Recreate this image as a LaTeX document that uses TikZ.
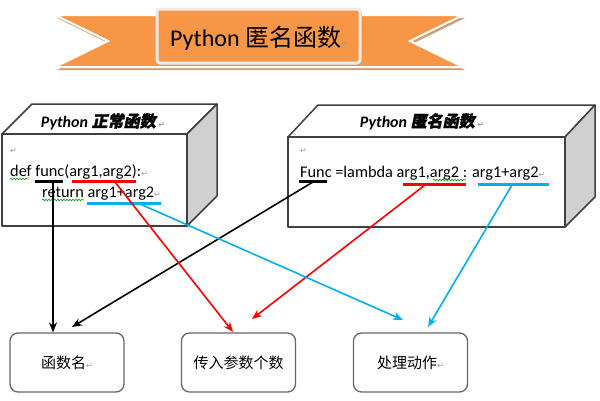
\documentclass[tikz,border=0pt]{standalone}
\usepackage{fontspec}
\setmainfont{Carlito}
\newfontfamily\cjk{Noto Sans CJK SC}
\newfontfamily\cjkbi[FakeSlant=0.2,FakeBold=1.5]{Noto Sans CJK SC}
\newfontfamily\symf{DejaVu Sans}
\usetikzlibrary{arrows.meta,decorations.pathmorphing}
\definecolor{ribbon}{HTML}{F79646}
\definecolor{ribshadow}{HTML}{C9A07A}
\definecolor{cblue}{HTML}{00B0F0}
\definecolor{cred}{HTML}{FF0000}
\definecolor{sidegray}{HTML}{D0D0D0}
\newcommand\retmark{{\symf\fontsize{8}{8}\selectfont\color{black!40}↵}}
\begin{document}
\begin{tikzpicture}[x=1pt,y=-1pt,
  code/.style={font=\fontsize{16.3}{16.3}\selectfont, anchor=base west, inner sep=0pt},
  boxtitle/.style={font=\fontsize{16}{16}\selectfont, anchor=base, inner sep=0pt},
  conn/.style={line width=1.6pt, -{Stealth[length=10pt,width=8pt]}},
  ul/.style={line width=3pt},
  face/.style={draw=black!75, line width=1.5pt, line join=round},
  btn/.style={draw=black!60, line width=1.3pt, rounded corners=8pt, minimum width=114pt, minimum height=59pt, inner sep=0pt, font=\cjk\fontsize{15}{15}\selectfont},
  wavy/.style={draw=green!60!black, line width=0.6pt, decorate, decoration={snake, amplitude=0.8pt, segment length=3pt}}
]
\useasboundingbox (0,0) rectangle (600,400);

% ---------- ribbon ----------
\begin{scope}[shift={(2,3)}]
  \fill[ribshadow] (55,15) -- (463,15) -- (410,41) -- (463,67) -- (55,67) -- (108,41) -- cycle;
\end{scope}
\filldraw[fill=ribbon, draw=white, line width=2pt, line join=miter] (55,15) -- (463,15) -- (410,41) -- (463,67) -- (55,67) -- (108,41) -- cycle;
\fill[ribshadow] (157,12) rectangle (362,66);
\filldraw[fill=ribbon, draw=white!92!black, line width=3pt, rounded corners=3pt] (157,9) rectangle (360,63);
\node[anchor=base west, inner sep=0pt, font=\fontsize{24}{24}\selectfont] (title) at (170,46) {Python {\cjk 匿名函数}\retmark};

% ---------- left 3D box ----------
\filldraw[face, fill=white] (2,134) -- (32,104) -- (217,104) -- (187,134) -- cycle;
\filldraw[face, fill=sidegray] (187,134) -- (217,104) -- (217,196) -- (187,226) -- cycle;
\filldraw[face, fill=white] (2,134) rectangle (187,226);
\node[boxtitle] (ltitle) at (103,127) {\bfseries\itshape Python {\cjkbi 正常函数}\,\retmark};
\node[anchor=base west, inner sep=0pt] (lret) at (10,153) {\retmark};
\node[code] (lcode1) at (10,176) {def func(arg1,arg2):\retmark};
\node[code] (lcode2) at (42,197) {return arg1+arg2\retmark};
\draw[wavy] (10,179) -- (28,179);
\draw[wavy] (42,200) -- (84,200);
\draw[ul, black] (35,181) -- (63,181);
\draw[ul, cred] (72,181) -- (136,181);
\draw[ul, cblue] (87,203) -- (161,203);

% ---------- right 3D box ----------
\filldraw[face, fill=white] (288,137) -- (318,105) -- (595,105) -- (565,137) -- cycle;
\filldraw[face, fill=sidegray] (565,137) -- (595,105) -- (595,197) -- (565,227) -- cycle;
\filldraw[face, fill=white] (288,137) rectangle (565,227);
\node[boxtitle] (rtitle) at (422,127) {\bfseries\itshape Python {\cjkbi 匿名函数}\,\retmark};
\node[anchor=base west, inner sep=0pt] (rret) at (300,153) {\retmark};
\node[code] (rcode) at (300,177) {Func =lambda arg1,arg2 : arg1+arg2\retmark};
\draw[wavy] (433,180) -- (466,180);
\draw[ul, black] (299,181) -- (327,181);
\draw[ul, cred] (403,184) -- (466,184);
\draw[ul, cblue] (478,184) -- (549,184);

% ---------- bottom boxes ----------
\node[btn] (b1) at (67,362.5) {函数名\retmark};
\node[btn] (b2) at (238.5,362.5) {传入参数个数};
\node[btn] (b3) at (410.5,362.5) {处理动作\retmark};

% ---------- connector anchors ----------
\coordinate (sfunc) at (53,182);
\coordinate (sFunc) at (313,182);
\coordinate (sargL) at (115,182);
\coordinate (sargR) at (425,185);
\coordinate (sbodyL) at (140,204);
\coordinate (sbodyR) at (512,185);
\coordinate (eB1) at (72,327);
\coordinate (eR1) at (233,332);
\coordinate (eR2) at (252,319);
\coordinate (eBl1) at (403,320);
\coordinate (eBl2) at (428,327);

% ---------- connectors ----------
\draw[conn, black] (sfunc) -- (sfunc |- b1.north);
\draw[conn, black] (sFunc) -- (eB1);
\draw[conn, cred] (sargL) -- (eR1);
\draw[conn, cred] (sargR) -- (eR2);
\draw[conn, cblue] (sbodyL) -- (eBl1);
\draw[conn, cblue] (sbodyR) -- (eBl2);
\end{tikzpicture}
\end{document}
